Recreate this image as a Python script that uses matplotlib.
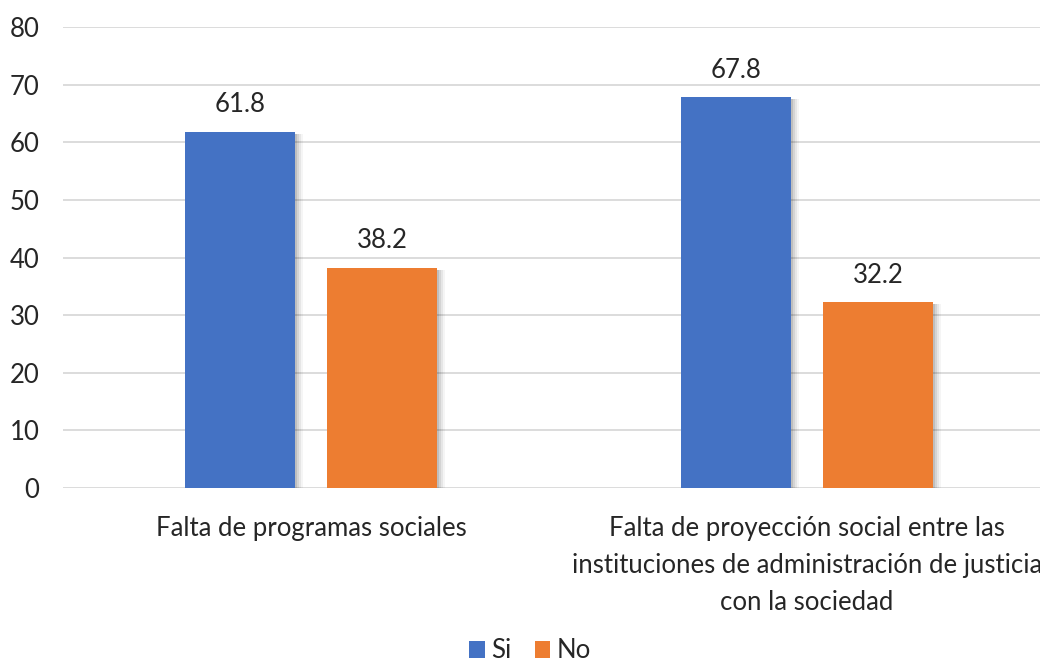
import matplotlib.pyplot as plt
from matplotlib.patches import Rectangle
import numpy as np

categories = ["Falta de programas sociales",
              "Falta de proyección social entre las\ninstituciones de administración de justicia\ncon la sociedad"]
si_values = [61.8, 67.8]
no_values = [38.2, 32.2]
series_names = ["Si", "No"]
colors = ["#4472C4", "#ED7D31"]
y_ticks = [0, 10, 20, 30, 40, 50, 60, 70, 80]

plt.rcParams['font.family'] = ['Lato', 'DejaVu Sans']
text_color = "#262626"
fs = 18.5

fig = plt.figure(figsize=(10.4, 6.66), dpi=100)
ax = fig.add_axes([63 / 1040, 1 - 488 / 666, 977 / 1040, 461 / 666])

x = np.arange(len(categories))
width = 0.222
offset = 0.143

for vals, off, col, name in zip([si_values, no_values], [-offset, offset], colors, series_names):
    # soft shadow to the right of each bar
    for xi, v in zip(x, vals):
        for k, a in enumerate([0.10, 0.08, 0.06, 0.04]):
            ax.add_patch(Rectangle((xi + off - width / 2 + 0.004 + k * 0.004, -0.3),
                                   width, v, color="black", alpha=a, lw=0, zorder=2))
    bars = ax.bar(x + off, vals, width, color=col, label=name, zorder=3)
    for b, v in zip(bars, vals):
        ax.text(b.get_x() + b.get_width() / 2, v + 2.5, f"{v:.1f}",
                ha="center", va="bottom", fontsize=fs, color=text_color)

ax.set_xlim(-0.5, 1.5 - 15 / 496)
ax.set_ylim(0, 80)
ax.set_yticks(y_ticks)
ax.set_yticklabels([str(t) for t in y_ticks], fontsize=fs, color=text_color)
ax.yaxis.grid(True, color="#d9d9d9", lw=1.3)
ax.set_axisbelow(True)
for s in ax.spines.values():
    s.set_visible(False)
ax.tick_params(axis="y", length=0, pad=17)
ax.tick_params(axis="x", length=0, pad=20)
ax.set_xticks(x)
ax.set_xticklabels(categories, fontsize=fs, color=text_color, linespacing=1.6, va="top")

fig.legend(loc="center", bbox_to_anchor=(530 / 1040, 1 - 651 / 666), ncol=2, frameon=False,
           fontsize=fs, handlelength=0.6, handleheight=0.6, handletextpad=0.25,
           columnspacing=0.9, labelcolor=text_color, borderpad=0)

fig.savefig("out.png", dpi=100)
